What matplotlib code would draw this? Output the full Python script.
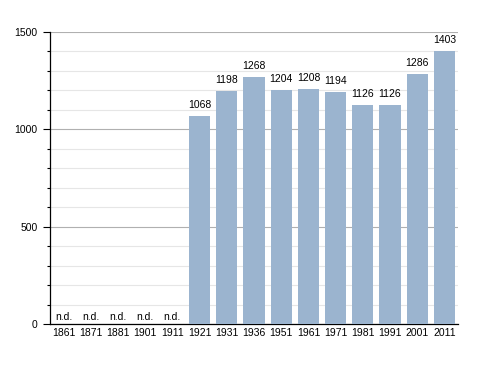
import matplotlib.pyplot as plt
import numpy as np
from matplotlib.ticker import MultipleLocator

plt.rcParams['font.family'] = ['Liberation Sans', 'DejaVu Sans']

years = ['1861', '1871', '1881', '1901', '1911', '1921', '1931', '1936',
         '1951', '1961', '1971', '1981', '1991', '2001', '2011']
population = [None, None, None, None, None, 1068, 1198, 1268,
              1204, 1208, 1194, 1126, 1126, 1286, 1403]

fig = plt.figure(figsize=(4.88, 3.73), dpi=100)
ax = fig.add_axes([50/488, 1 - 324/373, 408/488, 292/373])

x = np.arange(len(years))
heights = [0 if v is None else v for v in population]
ax.bar(x, heights, width=0.78, color='#9bb4cf', zorder=3)

# value labels, "n.d." where no data
for xi, v in zip(x, population):
    if v is None:
        ax.text(xi, 12, 'n.d.', ha='center', va='bottom', fontsize=7.5, zorder=4)
    else:
        ax.text(xi, v + 30, str(v), ha='center', va='bottom', fontsize=7.5, zorder=4)

ax.set_xlim(-0.5, len(years) - 0.5)
ax.set_ylim(0, 1500)
ax.set_xticks(x)
ax.set_xticklabels(years, fontsize=7.5)
ax.tick_params(axis='x', length=0, pad=3)

ax.yaxis.set_major_locator(MultipleLocator(500))
ax.yaxis.set_minor_locator(MultipleLocator(100))
ax.tick_params(axis='y', which='major', length=5, width=0.8, labelsize=7.5, pad=4)
ax.tick_params(axis='y', which='minor', length=2, width=0.8)
ax.grid(axis='y', which='major', color='#b0b0b0', linewidth=0.8, zorder=0)
ax.grid(axis='y', which='minor', color='#e6e6e6', linewidth=0.8, zorder=0)

for s in ['top', 'right']:
    ax.spines[s].set_visible(False)
ax.spines['left'].set_linewidth(0.9)
ax.spines['bottom'].set_linewidth(0.9)

fig.savefig('out.png', dpi=100)
